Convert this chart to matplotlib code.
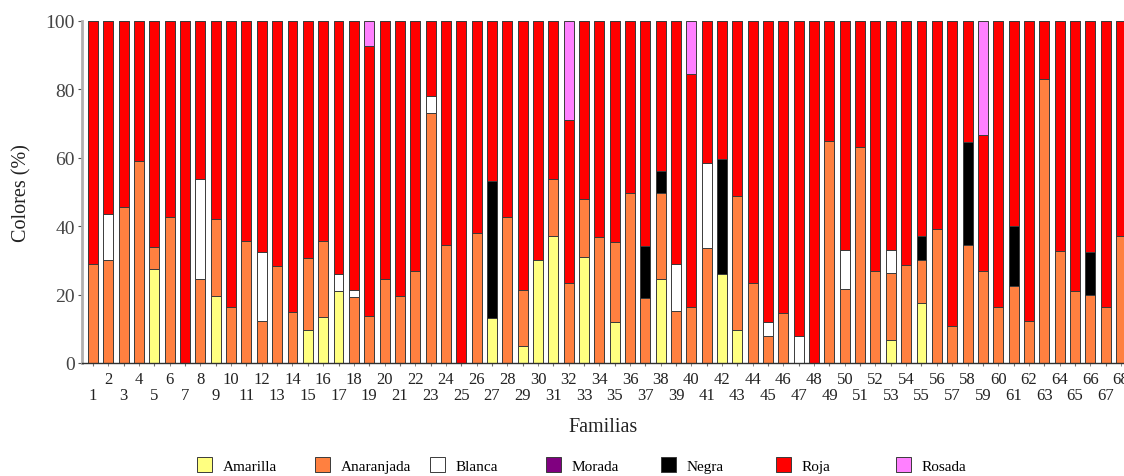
import numpy as np
import matplotlib.pyplot as plt

plt.rcParams["font.family"] = ["Liberation Serif", "DejaVu Serif"]

familias = list(range(1, 69))

# segment heights (%) per family, stacked bottom -> top
amarilla = [0, 0, 0, 0, 27.5, 0, 0, 0, 19.7, 0, 0, 0, 0, 0, 9.6, 13.4, 21, 0, 0, 0,
            0, 0, 0, 0, 0, 0, 13.1, 0, 5.1, 30, 37.2, 0, 30.9, 0, 12.1, 0, 0, 24.5, 0, 0,
            0, 26, 9.7, 0, 0, 0, 0, 0, 0, 0, 0, 0, 6.8, 0, 17.4, 0, 0, 0, 0, 0,
            0, 0, 0, 0, 0, 0, 0, 0]
anaranjada = [29, 30, 45.5, 59, 6.3, 42.6, 0, 24.6, 22.5, 16.4, 35.6, 12.4, 28.5, 14.8, 21, 22.2, 0, 19.4, 13.8, 24.6,
              19.6, 26.8, 73, 34.4, 0, 38, 0, 42.6, 16.3, 0, 16.5, 23.3, 17, 36.7, 23.4, 49.8, 18.9, 25.1, 15.2, 16.3,
              33.5, 0, 39.2, 23.3, 8, 14.6, 0, 0, 64.8, 21.7, 63.3, 26.8, 19.4, 28.6, 12.7, 39.3, 10.8, 34.6, 26.8, 16.4,
              22.4, 12.2, 83.1, 32.8, 21, 19.8, 16.4, 37.1]
blanca = [0, 13.5, 0, 0, 0, 0, 0, 29.1, 0, 0, 0, 20.2, 0, 0, 0, 0, 5, 1.9, 0, 0,
          0, 0, 5.1, 0, 0, 0, 0, 0, 0, 0, 0, 0, 0, 0, 0, 0, 0, 0, 13.7, 0,
          25, 0, 0, 0, 4.1, 0, 8, 0, 0, 11.2, 0, 0, 6.9, 0, 0, 0, 0, 0, 0, 0,
          0, 0, 0, 0, 0, 0, 0, 0]
morada = [0] * 68
negra = [0, 0, 0, 0, 0, 0, 0, 0, 0, 0, 0, 0, 0, 0, 0, 0, 0, 0, 0, 0,
         0, 0, 0, 0, 0, 0, 40, 0, 0, 0, 0, 0, 0, 0, 0, 0, 15.2, 6.4, 0, 0,
         0, 33.6, 0, 0, 0, 0, 0, 0, 0, 0, 0, 0, 0, 0, 7.1, 0, 0, 30.1, 0, 0,
         17.6, 0, 0, 0, 0, 12.8, 0, 0]
rosada = [0, 0, 0, 0, 0, 0, 0, 0, 0, 0, 0, 0, 0, 0, 0, 0, 0, 0, 7.3, 0,
          0, 0, 0, 0, 0, 0, 0, 0, 0, 0, 0, 29, 0, 0, 0, 0, 0, 0, 0, 15.5,
          0, 0, 0, 0, 0, 0, 0, 0, 0, 0, 0, 0, 0, 0, 0, 0, 0, 0, 33.3, 0,
          0, 0, 0, 0, 0, 0, 0, 0]
roja = list(100 - np.array(amarilla) - np.array(anaranjada) - np.array(blanca)
            - np.array(morada) - np.array(negra) - np.array(rosada))

series = [
    ("Amarilla", amarilla, "#ffff80"),
    ("Anaranjada", anaranjada, "#ff8040"),
    ("Blanca", blanca, "#ffffff"),
    ("Morada", morada, "#800080"),
    ("Negra", negra, "#000000"),
    ("Roja", roja, "#ff0000"),
    ("Rosada", rosada, "#ff80ff"),
]

fig = plt.figure(figsize=(11.24, 4.77), dpi=100)
ax = fig.add_axes([82 / 1124, 113 / 477, 1042 / 1124, 342 / 477])

bottom = np.zeros(len(familias))
handles = []
for name, vals, color in series:
    bars = ax.bar(familias, vals, bottom=bottom, width=0.65, color=color,
                  edgecolor="#3a3a3a", linewidth=0.7, label=name)
    handles.append(bars)
    bottom += np.array(vals)

ax.set_xlim(0.28, 68.2)
ax.set_ylim(0, 100)
ax.set_yticks([0, 20, 40, 60, 80, 100])

odd = [f for f in familias if f % 2 == 1]
even = [f for f in familias if f % 2 == 0]
ax.set_xticks(odd, [str(f) for f in odd])
ax.set_xticks(even, [str(f) for f in even], minor=True)
ax.tick_params(axis="x", which="both", length=2.5, color="#707070",
               labelsize=12, labelcolor="#222222")
ax.tick_params(axis="x", which="major", pad=15)
ax.tick_params(axis="x", which="minor", pad=3)
ax.tick_params(axis="y", length=3, color="#505050", labelsize=14,
               labelcolor="#444444", pad=2)

for s in ["top", "right"]:
    ax.spines[s].set_visible(False)
ax.spines["left"].set_color("#b0b0b0")
ax.spines["left"].set_linewidth(2)
ax.spines["bottom"].set_color("#303030")
ax.spines["bottom"].set_linewidth(1)

ax.set_ylabel("Colores (%)", fontsize=14.5, labelpad=10, color="#222222")
ax.set_xlabel("Familias", fontsize=14.5, labelpad=10, color="#222222")

# legend entries at fixed spacing along the bottom
leg_x = [197, 315, 430, 546, 661, 776, 896]
for h, x in zip(handles, leg_x):
    lg = fig.legend(handles=[h], loc="center left",
                    bbox_to_anchor=(x / 1124, 1 - 466 / 477),
                    frameon=False, fontsize=11, borderpad=0, borderaxespad=0,
                    handlelength=0.95, handleheight=1.15, handletextpad=0.75)

fig.savefig("out.png", dpi=100)
